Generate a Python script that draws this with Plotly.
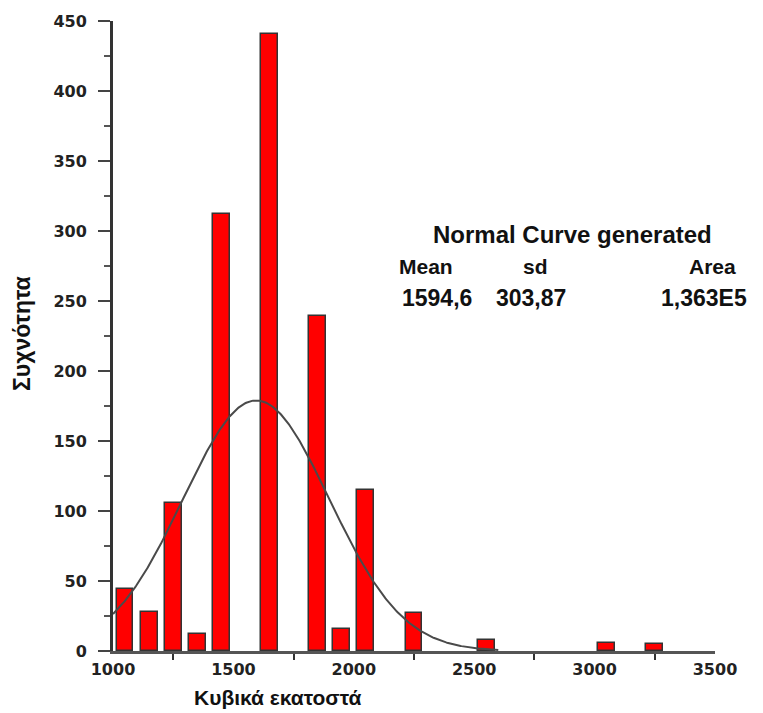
import numpy as np
import plotly.graph_objects as go

# Histogram bins (bin centre, cm3) and counts
bin_centers = [1050, 1150, 1250, 1350, 1450, 1650, 1850, 1950, 2050, 2250, 2550, 3050, 3250]
counts = [44, 28, 106, 12, 312, 441, 239, 16, 115, 27, 8, 6, 5]

# Fitted normal curve parameters
mean_val = 1594.6
sd_val = 303.87
area_val = 1.363e5

x_ticks = [1000, 1500, 2000, 2500, 3000, 3500]
y_ticks = [0, 50, 100, 150, 200, 250, 300, 350, 400, 450]

xc = np.linspace(1000, 2600, 400)
yc = area_val / (sd_val * np.sqrt(2 * np.pi)) * np.exp(-0.5 * ((xc - mean_val) / sd_val) ** 2)

fig = go.Figure()
fig.add_trace(go.Bar(
    x=bin_centers, y=counts, width=70,
    marker=dict(color="#ff0000", line=dict(color="#333333", width=1.5)),
    showlegend=False,
))
fig.add_trace(go.Scatter(
    x=xc, y=yc, mode="lines",
    line=dict(color="#4a4a4a", width=2),
    showlegend=False,
))

tick_font = dict(family="DejaVu Sans", size=16, color="#222222", weight="bold")

fig.update_layout(
    width=763, height=713,
    margin=dict(l=113, r=48, t=19, b=62),
    paper_bgcolor="white", plot_bgcolor="white",
    bargap=0,
    xaxis=dict(
        range=[1000, 3500], tickvals=x_ticks, ticktext=[str(v) for v in x_ticks],
        showline=True, linecolor="#555555", linewidth=3,
        ticks="", showgrid=False, zeroline=False,
        tickfont=tick_font, ticklabelstandoff=2,
        minor=dict(tickvals=[1250, 1750, 2250, 2750, 3250], ticks="outside",
                   ticklen=6, tickwidth=2, tickcolor="#333333"),
    ),
    yaxis=dict(
        range=[0, 450], tickvals=y_ticks, ticktext=[str(v) for v in y_ticks],
        showline=True, linecolor="#333333", linewidth=3,
        ticks="outside", ticklen=12, tickwidth=2, tickcolor="#444444",
        showgrid=False, zeroline=False,
        tickfont=tick_font, ticklabelstandoff=8,
        minor=dict(dtick=25, tick0=0, ticks="outside", ticklen=6, tickwidth=2,
                   tickcolor="#555555"),
    ),
)

def font(size):
    return dict(family="Liberation Sans, Arial", size=size, color="#111111", weight="bold")

fig.add_annotation(text="Κυβικά εκατοστά", xref="paper", yref="paper",
                   x=(277 - 113) / 602, y=-(698 - 651) / 632, showarrow=False,
                   font=font(21), xanchor="center", yanchor="middle")
fig.add_annotation(text="Συχνότητα", xref="paper", yref="paper",
                   x=-(113 - 22) / 602, y=(651 - 333) / 632, showarrow=False,
                   textangle=-90, font=font(23), xanchor="center", yanchor="middle")

def px(xp, yp):
    return (xp - 113) / 602, (651 - yp) / 632

stats = [
    ("Normal Curve generated", 572, 233, 24),
    ("Mean", 426, 265, 21),
    ("sd", 535, 265, 21),
    ("Area", 712, 265, 21),
    ("1594,6", 437, 297, 23),
    ("303,87", 531, 297, 23),
    ("1,363E5", 704, 297, 23),
]
for txt, xp, yp, sz in stats:
    ax, ay = px(xp, yp)
    fig.add_annotation(text=txt, xref="paper", yref="paper", x=ax, y=ay,
                       showarrow=False, font=font(sz), xanchor="center", yanchor="middle")

fig.write_html("out.html")
